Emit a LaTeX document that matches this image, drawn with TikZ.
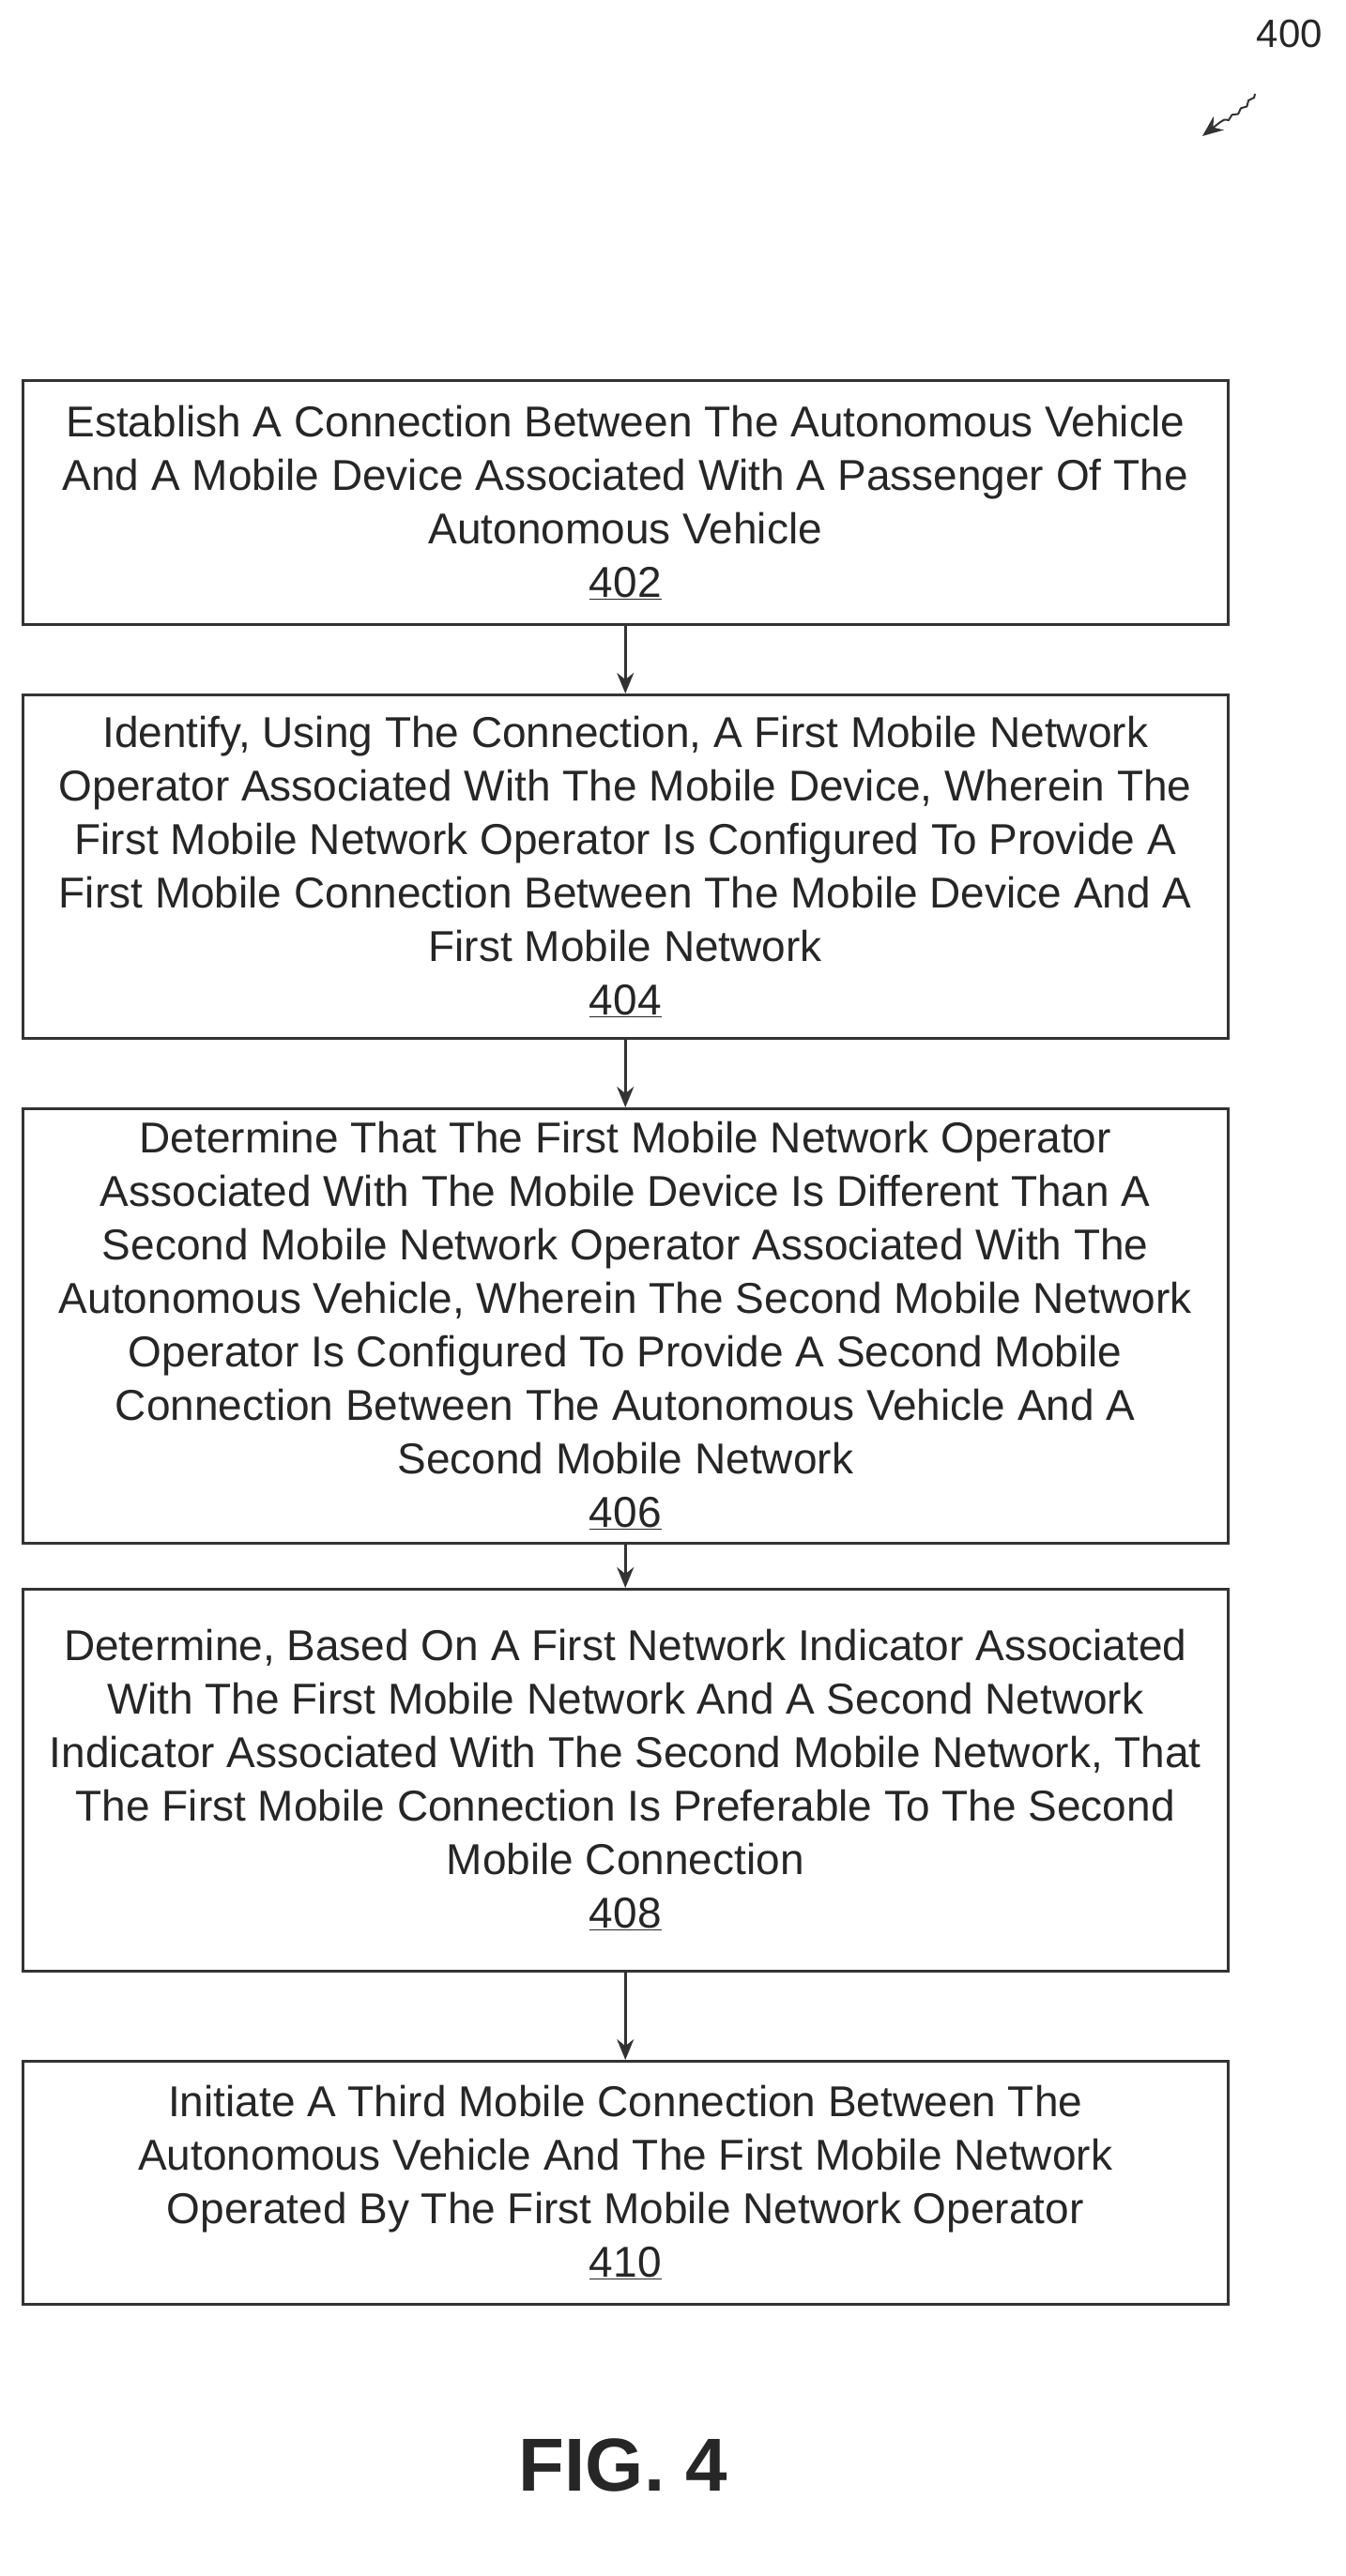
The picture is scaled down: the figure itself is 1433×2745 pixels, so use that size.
\documentclass[tikz,border=0pt]{standalone}
\usepackage{fontspec}
\setmainfont{Liberation Sans}
\usetikzlibrary{arrows.meta,decorations.pathmorphing}
\begin{document}
\begin{tikzpicture}[x=1pt,y=-1pt,
  box/.style={draw=black!80,line width=2.5pt,minimum width=1284pt,inner sep=0pt,anchor=north west,align=center,font=\fontsize{46}{57}\selectfont,text=black!85},
  arr/.style={draw=black!80,line width=2.5pt,-{Stealth[length=22pt,width=18pt]}}]
\useasboundingbox (0,0) rectangle (1433,2745);
\node[box,minimum height=260pt] (b402) at (23,404) {Establish A Connection Between The Autonomous Vehicle\\And A Mobile Device Associated With A Passenger Of The\\Autonomous Vehicle\\\underline{402}};
\node[box,minimum height=366pt] (b404) at (23,739) {Identify, Using The Connection, A First Mobile Network\\Operator Associated With The Mobile Device, Wherein The\\First Mobile Network Operator Is Configured To Provide A\\First Mobile Connection Between The Mobile Device And A\\First Mobile Network\\\underline{404}};
\node[box,minimum height=463pt] (b406) at (23,1180) {Determine That The First Mobile Network Operator\\Associated With The Mobile Device Is Different Than A\\Second Mobile Network Operator Associated With The\\Autonomous Vehicle, Wherein The Second Mobile Network\\Operator Is Configured To Provide A Second Mobile\\Connection Between The Autonomous Vehicle And A\\Second Mobile Network\\\underline{406}};
\node[box,minimum height=407pt] (b408) at (23,1692) {Determine, Based On A First Network Indicator Associated\\With The First Mobile Network And A Second Network\\Indicator Associated With The Second Mobile Network, That\\The First Mobile Connection Is Preferable To The Second\\Mobile Connection\\\underline{408}};
\node[box,minimum height=259pt] (b410) at (23,2195) {Initiate A Third Mobile Connection Between The\\Autonomous Vehicle And The First Mobile Network\\Operated By The First Mobile Network Operator\\\underline{410}};
\draw[arr] (b402.south) -- (b404.north);
\draw[arr] (b404.south) -- (b406.north);
\draw[arr] (b406.south) -- (b408.north);
\draw[arr] (b408.south) -- (b410.north);
\node[font=\fontsize{42}{48}\selectfont,text=black!85] (l400) at (1374,36) {400};
\coordinate (a400) at (1281,145);
\draw[arr,line width=2pt,decorate,decoration={snake,amplitude=1.5pt,segment length=12pt,post length=24pt}] (1337,100) .. controls (1320,125) and (1300,125) .. (a400);
\node[font=\bfseries\fontsize{80}{90}\selectfont,text=black!85] (fig) at (664,2627) {FIG. 4};
\end{tikzpicture}
\end{document}
